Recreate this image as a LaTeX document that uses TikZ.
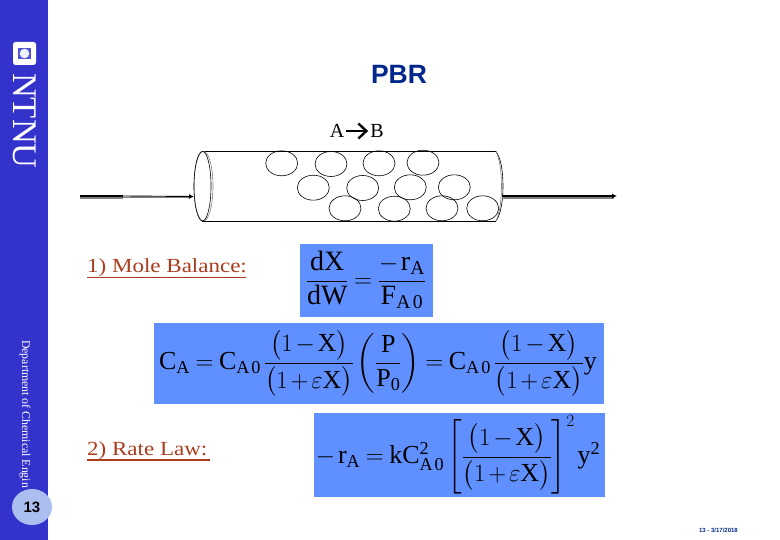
\documentclass[tikz,border=0pt]{standalone}
\usepackage{amsmath}
\usepackage{graphicx}
\usepackage{fontspec}
\usepackage{xcolor}
\usepackage{tikz}
\usetikzlibrary{arrows.meta,shapes.geometric}
\setmainfont{Liberation Serif}
\setsansfont{Liberation Sans}
\setmathrm{Liberation Serif}
\definecolor{ntnublue}{RGB}{51,51,204}
\definecolor{eqblue}{RGB}{96,144,255}
\definecolor{tabblue}{RGB}{170,190,240}
\definecolor{titlenavy}{RGB}{0,40,140}
\definecolor{lawred}{RGB}{170,60,30}
\newcommand{\lawtext}[1]{\scalebox{1.15}[1]{#1}}
\newcommand{\oneminus}{\big(1-\mathrm{X}\big)}
\newcommand{\oneplus}{\big(1+\varepsilon\mathrm{X}\big)}
\newcommand{\tightmath}{\medmuskip=2mu\relax\thickmuskip=4mu\relax\thinmuskip=2mu\relax}

\begin{document}
\begin{tikzpicture}[x=1pt,y=-1pt,
 pellet/.style={ellipse,draw=black,line width=0.6pt,minimum width=32pt,minimum height=25pt,inner sep=0pt},
 eqbox/.style={fill=eqblue,draw=none},
 eqn/.style={inner sep=0pt,text=black,font=\fontsize{26}{25}\selectfont},
 law/.style={inner sep=0pt,anchor=west,text=lawred,font=\fontsize{20}{24}\selectfont},
 lawline/.style={lawred,line width=1.4pt},
 feed/.style={-{Latex[length=5pt,width=5pt]},black,line width=0.9pt},
 thickfeed/.style={black,line width=2pt},
 outfeed/.style={-{Latex[length=5pt,width=5pt]},black,line width=2pt},
 shade/.style={gray,line width=1.4pt},
 reaction/.style={-{Straight Barb[length=8pt,width=15pt,line width=2.4pt]},black,line width=2.4pt,shorten >=2pt,shorten <=2pt},
 wall/.style={black,line width=0.6pt},
 wallshade/.style={gray,line width=0.6pt}
]
\useasboundingbox (0,0) rectangle (780,540);
% side bar
\fill[ntnublue] (0,0) rectangle (48,540);
\fill[white,rounded corners=2.5pt] (13,42) rectangle (36,65);
\fill[ntnublue!85] (18,48) rectangle (31,59);
\fill[white!80!tabblue] (24.5,53.5) circle (4.8pt);
\node[rotate=-90,inner sep=0pt,text=white,font=\fontsize{34.5}{35}\selectfont] (logo) at (24.5,121) {NTNU};
\node[rotate=-90,inner sep=0pt,anchor=west,text=white,font=\fontsize{11.8}{14}\selectfont] (dept) at (25,340) {Department of Chemical Engin};
\node[ellipse,fill=tabblue,minimum width=40pt,minimum height=36pt,inner sep=0pt,font=\sffamily\bfseries\fontsize{15}{17}\selectfont] (tab) at (32,507) {13};
\node[inner sep=0pt,anchor=east,text=titlenavy,font=\sffamily\bfseries\fontsize{6}{7}\selectfont] (stamp) at (738,530) {13 - 3/17/2018};

% title and reaction
\node[inner sep=0pt,text=titlenavy,font=\sffamily\bfseries\fontsize{26.5}{30}\selectfont] (title) at (399,74) {PBR};
\node[inner sep=0pt,font=\fontsize{20}{24}\selectfont] (rA) at (337,131) {A};
\node[inner sep=0pt,font=\fontsize{20}{24}\selectfont] (rB) at (377,131) {B};
\draw[reaction] (rA) -- (rB);

% reactor tube
\coordinate (topL) at (202,151.5);
\coordinate (topR) at (496,151.5);
\coordinate (botL) at (202,221);
\coordinate (botR) at (496,221);
\draw[wall] (topL) -- (topR);
\draw[wall] (botL) -- (botR);
\draw[wallshade] (203.5,186.2) ellipse (9.5pt and 34.8pt);
\draw[wall] (202.5,186.2) ellipse (8.5pt and 34.8pt);
\draw[wall] (topR) .. controls (501,158) and (503,172) .. (503,186) .. controls (503,200) and (501,214) .. (botR);
\draw[wallshade] (topR) .. controls (499.5,158) and (501.5,172) .. (501.5,186) .. controls (501.5,200) and (499.5,214) .. (botR);

% pellets
\node[pellet] (p1) at (281.7,163.3) {};
\node[pellet] (p2) at (331,164) {};
\node[pellet] (p3) at (379,163.3) {};
\node[pellet] (p4) at (423,162.7) {};
\node[pellet] (p5) at (313.3,187.7) {};
\node[pellet] (p6) at (362.7,188) {};
\node[pellet] (p7) at (410.3,187.3) {};
\node[pellet] (p8) at (454.3,187.3) {};
\node[pellet] (p9) at (345,208.3) {};
\node[pellet] (p10) at (394.3,208.7) {};
\node[pellet] (p11) at (442,208.3) {};
\node[pellet] (p12) at (482.7,208.3) {};

% feed lines
\coordinate (inA) at (80,196);
\coordinate (inB) at (123,196);
\coordinate (inC) at (194,196.5);
\coordinate (outA) at (502,196);
\coordinate (outC) at (617,196);
\draw[shade] (80,198) -- (123,198);
\draw[gray,line width=0.5pt] (123,197.5) -- (190,197.5);
\draw[thickfeed] (inA) -- (inB);
\draw[feed] (inB) -- (inC);
\draw[shade] (502,198) -- (614,198);
\draw[outfeed] (outA) -- (outC);

% laws
\node[law] (mole) at (87,268) {\lawtext{1) Mole Balance:}};
\coordinate (moleA) at (87,277.5);
\coordinate (moleB) at (246,277.5);
\draw[lawline] (moleA) -- (moleB);
\node[law] (rate) at (87,451) {\lawtext{2) Rate Law:}};
\coordinate (rateA) at (87,460);
\coordinate (rateB) at (210,460);
\draw[lawline] (rateA) -- (rateB);

% equations
\fill[eqbox] (300,244) rectangle (432.5,317.5);
\node[eqn,font=\fontsize{28}{32}\selectfont] (eqA) at (366,280) {$\tightmath\dfrac{\mathrm{dX}}{\mathrm{dW}}=\dfrac{-\,\mathrm{r_A}}{\mathrm{F_{A\,0}}}$};
\fill[eqbox] (154,323) rectangle (604,404);
\node[eqn] (eqB) at (378,363.5) {$\tightmath\mathrm{C_A}=\mathrm{C_{A\,0}}\,\dfrac{\oneminus}{\oneplus}\left(\dfrac{\mathrm{P}}{\mathrm{P_0}}\right)=\mathrm{C_{A\,0}}\,\dfrac{\oneminus}{\oneplus}\mathrm{y}$};
\fill[eqbox] (314,413) rectangle (605,497);
\node[eqn] (eqC) at (458,455) {$\tightmath-\,\mathrm{r_A}=\mathrm{kC_{A\,0}^2}\left[\dfrac{\oneminus}{\oneplus}\right]^2\mathrm{y^2}$};
\end{tikzpicture}
\end{document}
